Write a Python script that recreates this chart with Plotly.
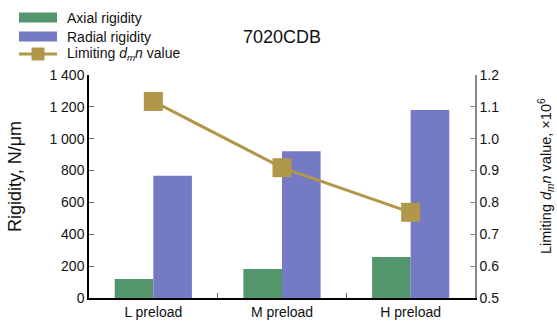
import plotly.graph_objects as go

categories = ["L preload", "M preload", "H preload"]
axial_rigidity = [120, 182, 258]
radial_rigidity = [768, 922, 1180]
limiting_dmn = [1.117, 0.909, 0.769]

left_ticks = [0, 200, 400, 600, 800, 1000, 1200, 1400]
right_ticks = [0.5, 0.6, 0.7, 0.8, 0.9, 1.0, 1.1, 1.2]

GREEN = "#53966d"
BLUE = "#757ac5"
GOLD = "#b0974a"
FONT = "Liberation Sans, Arial, Helvetica, sans-serif"

W, H = 557, 323
L, R, T, B = 89, 475, 75, 298


def px(x):
    return (x - L) / (R - L)


def py(y):
    return (B - y) / (B - T)


fig = go.Figure()
fig.add_trace(go.Bar(x=categories, y=axial_rigidity, marker_color=GREEN,
                     marker_line_width=0, name="Axial rigidity", showlegend=False))
fig.add_trace(go.Bar(x=categories, y=radial_rigidity, marker_color=BLUE,
                     marker_line_width=0, name="Radial rigidity", showlegend=False))
fig.add_trace(go.Scatter(x=categories, y=limiting_dmn, yaxis="y2", mode="lines+markers",
                         line=dict(color=GOLD, width=3),
                         marker=dict(symbol="square", size=19, color=GOLD),
                         name="Limiting dmn value", showlegend=False, cliponaxis=False))

shapes = []
annotations = []
# manual legend
leg_items = [("rect", GREEN, "Axial rigidity", 17.5),
             ("rect", BLUE, "Radial rigidity", 36.5),
             ("line", GOLD, "Limiting <i>d</i><sub><i>m</i></sub><i>n</i> value", 54)]
for kind, col, label, yc in leg_items:
    if kind == "rect":
        shapes.append(dict(type="rect", xref="paper", yref="paper",
                           x0=px(19), x1=px(57), y0=py(yc - 5), y1=py(yc + 5),
                           fillcolor=col, line_width=0, layer="above"))
    else:
        shapes.append(dict(type="line", xref="paper", yref="paper",
                           x0=px(19), x1=px(57), y0=py(yc), y1=py(yc),
                           line=dict(color=col, width=3), layer="above"))
        shapes.append(dict(type="rect", xref="paper", yref="paper",
                           x0=px(31.5), x1=px(44.5), y0=py(yc - 6.5), y1=py(yc + 6.5),
                           fillcolor=col, line_width=0, layer="above"))
    annotations.append(dict(text=label, xref="paper", yref="paper", x=px(65), y=py(yc),
                            xanchor="left", yanchor="middle", showarrow=False,
                            font=dict(size=14, color="#111", family=FONT)))

annotations.append(dict(text="7020CDB", xref="paper", yref="paper", x=px(282), y=py(37),
                        xanchor="center", yanchor="middle", showarrow=False,
                        font=dict(size=18, color="#111", family=FONT)))

# axis titles as annotations for exact placement
annotations.append(dict(text="Rigidity, N/μm", xref="paper", yref="paper", x=px(15), y=py(177),
                        xanchor="center", yanchor="middle", showarrow=False, textangle=-90,
                        font=dict(size=18, color="#111", family=FONT)))
annotations.append(dict(text="Limiting <i>d</i><sub><i>m</i></sub><i>n</i> value, ×10<sup>6</sup>",
                        xref="paper", yref="paper", x=px(546), y=py(176),
                        xanchor="center", yanchor="middle", showarrow=False, textangle=-90,
                        font=dict(size=14.5, color="#111", family=FONT)))

fig.update_layout(
    width=W, height=H,
    margin=dict(l=L, r=W - R, t=T, b=H - B, pad=0, autoexpand=False),
    paper_bgcolor="white", plot_bgcolor="white",
    barmode="group", bargap=0.4, bargroupgap=0,
    separators=". ",
    font=dict(family=FONT, size=14, color="#111"),
    shapes=shapes, annotations=annotations,
    showlegend=False,
    xaxis=dict(type="category", showline=True, linecolor="black", linewidth=1.5,
               ticks="inside", tickson="boundaries", ticklen=5, tickcolor="#666",
               showgrid=False, zeroline=False, tickfont=dict(size=14), automargin=False),
    yaxis=dict(range=[0, 1400], tickvals=left_ticks, tickformat=",d",
               showline=True, linecolor="black", linewidth=1.5,
               ticks="inside", ticklen=5, tickcolor="#666", showgrid=False, zeroline=False,
               tickfont=dict(size=14), automargin=False),
    yaxis2=dict(range=[0.5, 1.2], tickvals=right_ticks, tickformat=".1f",
                overlaying="y", side="right",
                showline=True, linecolor="#888", linewidth=1.5,
                ticks="inside", ticklen=5, tickcolor="#888", showgrid=False, zeroline=False,
                tickfont=dict(size=14), automargin=False),
)

fig.write_html("out.html", config={"displayModeBar": False},
               post_script="document.body.style.margin='0';document.body.style.overflow='hidden';")
